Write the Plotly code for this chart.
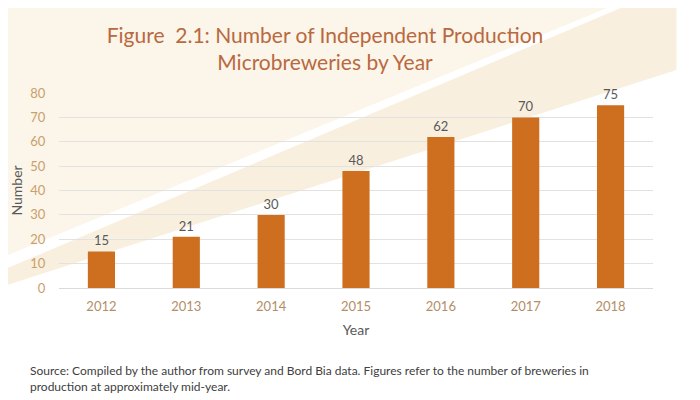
import plotly.graph_objects as go

# data
years = ['2012', '2013', '2014', '2015', '2016', '2017', '2018']
breweries = [15, 21, 30, 48, 62, 70, 75]

title_text = 'Figure  2.1: Number of Independent Production<br>Microbreweries by Year'
source_text = ('Source: Compiled by the author from survey and Bord Bia data. '
               'Figures refer to the number of breweries in<br>'
               'production at approximately mid-year.')

# page is 700x400 but the html body has an 8px margin, so the figure is shrunk
OFF = 8
W, H = 700 - OFF, 400 - OFF
# plot area in page pixels
L, R, T, B = 58.5, 653.5, 93, 288


def px(x, y):
    # page pixel -> paper coords
    return (x - L) / (R - L), (B - y) / (B - T)


def poly(points):
    p = [px(x, y) for x, y in points]
    return 'M ' + ' L '.join(f'{a:.4f},{b:.4f}' for a, b in p) + ' Z'


fig = go.Figure()

fig.add_trace(go.Bar(
    x=years, y=breweries,
    marker=dict(color='#CD6F1F', line=dict(width=0)),
    text=breweries, textposition='outside',
    textfont=dict(family='Lato', size=13, color='#595959'),
    cliponaxis=False,
))

# background beige bands
fig.add_shape(type='path', xref='paper', yref='paper', layer='below',
              path=poly([(0, 0), (627, 0), (0, 258)]),
              fillcolor='rgb(252,245,234)', line=dict(width=0))
fig.add_shape(type='path', xref='paper', yref='paper', layer='below',
              path=poly([(0, 271), (640, 0), (677, 0), (677, 70), (0, 287)]),
              fillcolor='rgb(249,239,223)', line=dict(width=0))

fig.update_layout(
    width=W, height=H,
    margin=dict(l=L - OFF, r=700 - R, t=T - OFF, b=400 - B, autoexpand=False),
    paper_bgcolor='white',
    plot_bgcolor='rgba(0,0,0,0)',
    font=dict(family='Lato', color='#595959'),
    showlegend=False,
    bargap=0.68,
    title=dict(text=title_text, x=(325 - OFF) / W, xanchor='center',
               y=1 - 35 / H, yanchor='middle',
               font=dict(family='Lato', size=21, color='#B9693F')),
)

fig.update_yaxes(
    range=[0, 80], dtick=10, automargin=False,
    showgrid=True, gridcolor='#E2E2E2', gridwidth=1,
    zeroline=True, zerolinecolor='#DADADA', zerolinewidth=1,
    ticks='outside', ticklen=10, tickcolor='rgba(0,0,0,0)',
    tickfont=dict(family='Lato', size=13, color='#C9A06A'),
    title=dict(text='Number', font=dict(family='Lato', size=14, color='#595959'),
               standoff=6),
)
fig.update_xaxes(
    showgrid=False, showline=False, automargin=False,
    ticks='outside', ticklen=6, tickcolor='rgba(0,0,0,0)',
    tickfont=dict(family='Lato', size=13, color='#B38E68'),
    title=dict(text='Year', font=dict(family='Lato', size=14, color='#595959'),
               standoff=12),
)

sx, sy = px(27, 361)
fig.add_annotation(text=source_text, xref='paper', yref='paper',
                   x=sx, y=sy, xanchor='left', yanchor='top', align='left',
                   showarrow=False,
                   font=dict(family='Lato', size=12, color='#404040'))

fig.write_html('out.html')
